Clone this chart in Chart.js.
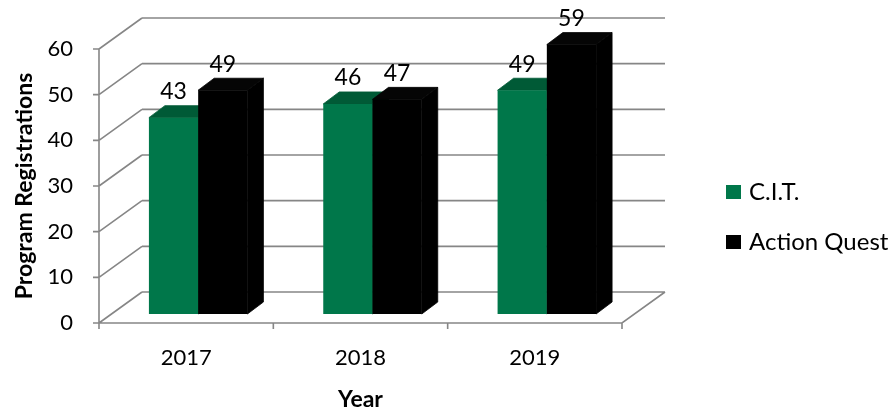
<!DOCTYPE html>
<html>
<head>
<meta charset="utf-8">
<script src="https://cdn.jsdelivr.net/npm/chart.js@4.4.1/dist/chart.umd.min.js"></script>
<style>
  html, body { margin: 0; padding: 0; background: #fff; }
  #wrap { width: 894px; height: 413px; }
</style>
</head>
<body>
<div id="wrap"><canvas id="chart"></canvas></div>
<script>
// data
const years = ['2017', '2018', '2019'];
const citValues = [43, 46, 49];
const actionQuestValues = [49, 47, 59];
const yTicks = [0, 10, 20, 30, 40, 50, 60];

const FONT = 'Lato, "Open Sans", sans-serif';
const GRID = '#868686';
const WALL_DX = 43, WALL_DY = -31;   // back wall offset from front axis
const BAR_DX = 12, BAR_DY = -9;      // bar front plane offset
const FACE_DX = 16, FACE_DY = -12;   // depth of each bar

const shades = {
  front: ['#00774a', '#000000'],
  top: ['#005a36', '#050505'],
  side: ['#004a2c', '#000000']
};

// walls, floor and front axes
const wallsPlugin = {
  id: 'walls',
  beforeDatasetsDraw(chart) {
    const ctx = chart.ctx;
    const { left, right, bottom } = chart.chartArea;
    const y = chart.scales.y, x = chart.scales.x;
    ctx.save();
    ctx.strokeStyle = GRID;
    ctx.lineWidth = 1.6;
    ctx.beginPath();
    yTicks.forEach(v => {
      const yy = y.getPixelForValue(v);
      ctx.moveTo(left + WALL_DX, yy + WALL_DY);
      ctx.lineTo(right + WALL_DX, yy + WALL_DY);
      ctx.moveTo(left, yy);
      ctx.lineTo(left + WALL_DX, yy + WALL_DY);
      ctx.moveTo(left - 6, yy);
      ctx.lineTo(left, yy);
    });
    ctx.moveTo(left, y.getPixelForValue(yTicks[yTicks.length - 1]));
    ctx.lineTo(left, bottom);
    ctx.lineTo(right, bottom);
    ctx.lineTo(right + WALL_DX, bottom + WALL_DY);
    const half = (x.getPixelForValue(1) - x.getPixelForValue(0)) / 2;
    for (let i = 0; i <= years.length; i++) {
      const xx = x.getPixelForValue(0) - half + i * half * 2;
      ctx.moveTo(xx, bottom);
      ctx.lineTo(xx, bottom + 6);
    }
    ctx.stroke();
    ctx.restore();
  }
};

function face(ctx, pts, color) {
  ctx.fillStyle = color;
  ctx.strokeStyle = color;
  ctx.lineWidth = 0.8;
  ctx.beginPath();
  ctx.moveTo(pts[0][0], pts[0][1]);
  for (let k = 1; k < pts.length; k++) ctx.lineTo(pts[k][0], pts[k][1]);
  ctx.closePath();
  ctx.fill();
  ctx.stroke();
}

// 3d bars: front plane shifted back, then top and side faces, series by series
const barsPlugin = {
  id: 'bars3d',
  beforeDatasetDraw() {
    return false; // drawn below in series order
  },
  afterDatasetsDraw(chart) {
    const ctx = chart.ctx;
    ctx.save();
    ctx.translate(BAR_DX, BAR_DY);
    chart.data.datasets.forEach((ds, i) => {
      chart.getDatasetMeta(i).data.forEach(bar => {
        const l = bar.x - bar.width / 2, r = bar.x + bar.width / 2;
        face(ctx, [[r, bar.y], [r + FACE_DX, bar.y + FACE_DY], [r + FACE_DX, bar.base + FACE_DY], [r, bar.base]], shades.side[i]);
        face(ctx, [[l, bar.y], [r, bar.y], [r + FACE_DX, bar.y + FACE_DY], [l + FACE_DX, bar.y + FACE_DY]], shades.top[i]);
        bar.draw(ctx);
      });
    });
    ctx.fillStyle = '#000';
    ctx.font = '23px ' + FONT;
    ctx.textAlign = 'center';
    ctx.textBaseline = 'middle';
    chart.data.datasets.forEach((ds, i) => {
      chart.getDatasetMeta(i).data.forEach((bar, j) => {
        ctx.fillText(ds.data[j], bar.x, bar.y - 26);
      });
    });
    ctx.restore();
  }
};

// legend on the right
const legendPlugin = {
  id: 'sideLegend',
  afterDraw(chart) {
    const ctx = chart.ctx;
    ctx.save();
    ctx.font = '24px ' + FONT;
    ctx.textBaseline = 'middle';
    chart.data.datasets.forEach((ds, i) => {
      const cy = 192 + i * 50;
      ctx.fillStyle = ds.backgroundColor;
      ctx.fillRect(726, cy - 7, 15, 14);
      ctx.fillStyle = '#000';
      ctx.fillText(ds.label, 749, cy);
    });
    ctx.restore();
  }
};

new Chart(document.getElementById('chart'), {
  type: 'bar',
  data: {
    labels: years,
    datasets: [
      { label: 'C.I.T.', data: citValues, backgroundColor: shades.front[0] },
      { label: 'Action Quest', data: actionQuestValues, backgroundColor: shades.front[1] }
    ]
  },
  options: {
    responsive: true,
    maintainAspectRatio: false,
    animation: false,
    categoryPercentage: 0.565,
    barPercentage: 1.0,
    layout: { padding: { top: 49, right: 272, bottom: 0, left: 0 } },
    plugins: {
      legend: { display: false },
      tooltip: { enabled: false }
    },
    scales: {
      x: {
        grid: { display: false, drawTicks: false, tickLength: 0 },
        border: { display: false },
        ticks: { color: '#000', font: { family: FONT, size: 22 }, padding: 22 },
        title: {
          display: true,
          text: 'Year',
          color: '#000',
          font: { family: FONT, size: 23, weight: 'bold' },
          padding: { top: 0, bottom: 0 }
        },
        afterFit(scale) { scale.height = 90; }
      },
      y: {
        min: yTicks[0],
        max: yTicks[yTicks.length - 1],
        grid: { display: false, drawTicks: false, tickLength: 0 },
        border: { display: false },
        ticks: { stepSize: 10, color: '#000', font: { family: FONT, size: 22 }, padding: 26 },
        title: {
          display: true,
          text: 'Program Registrations',
          color: '#000',
          font: { family: FONT, size: 23, weight: 'bold' },
          padding: { top: 11, bottom: 0 }
        },
        afterFit(scale) { scale.width = 99; }
      }
    }
  },
  plugins: [wallsPlugin, barsPlugin, legendPlugin]
});
</script>
</body>
</html>
